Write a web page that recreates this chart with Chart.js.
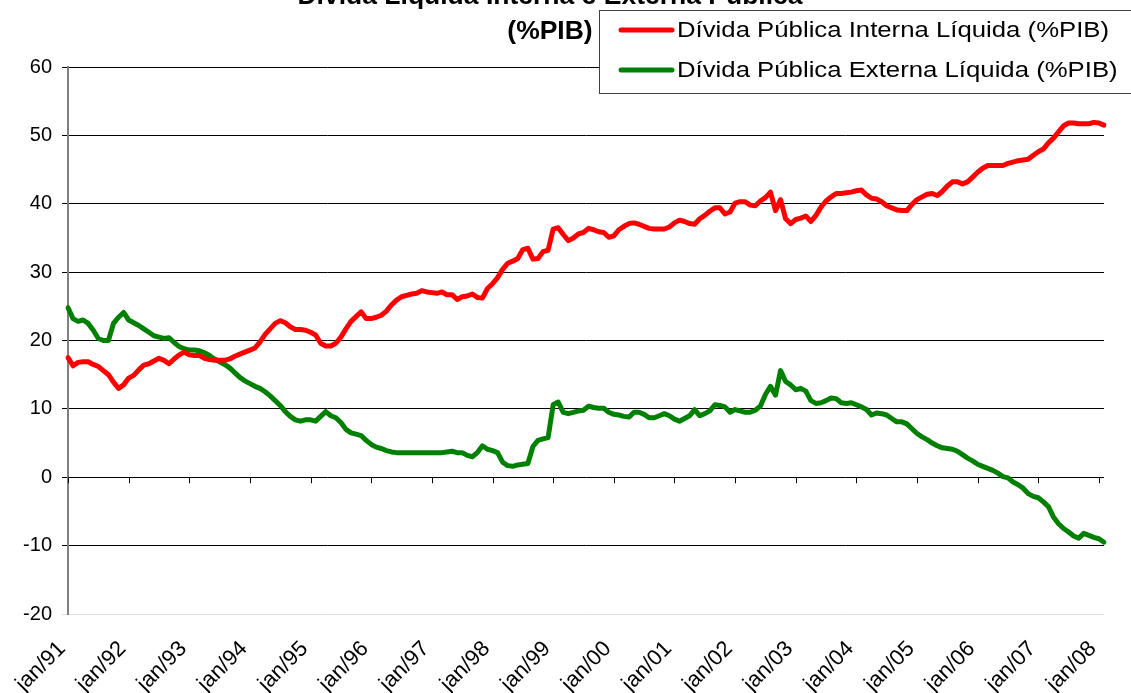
<!DOCTYPE html>
<html><head><meta charset="utf-8">
<script src="https://cdn.jsdelivr.net/npm/chart.js@4/dist/chart.umd.min.js"></script>
<style>html,body{margin:0;padding:0;background:#fff;overflow:hidden;}#wrap{width:1131px;height:693px;position:relative;}</style>
</head><body><div id="wrap"><canvas id="c" width="1131" height="693"></canvas></div>
<script>
const monthNames = ['jan','fev','mar','abr','mai','jun','jul','ago','set','out','nov','dez'];
const startYear = 1991;
const titleLines = ['Dívida Líquida Interna e Externa Pública', '(%PIB)'];
const seriesLabels = ['Dívida Pública Interna Líquida (%PIB)', 'Dívida Pública Externa Líquida (%PIB)'];
const seriesColors = ['#FF0000', '#008000'];

const internaValues = [
  17.5, 16.3, 16.8, 16.9, 16.9, 16.5, 16.2, 15.6, 15.0, 13.9, 13.0, 13.5,
  14.5, 14.9, 15.7, 16.4, 16.6, 17.0, 17.4, 17.1, 16.6, 17.3, 17.9, 18.3,
  17.9, 17.8, 17.8, 17.4, 17.2, 17.1, 17.1, 17.1, 17.3, 17.7, 18.0, 18.3,
  18.6, 18.9, 19.8, 20.9, 21.7, 22.5, 22.9, 22.6, 22.0, 21.6, 21.6, 21.5,
  21.2, 20.8, 19.6, 19.2, 19.2, 19.6, 20.5, 21.7, 22.8, 23.5, 24.2, 23.2,
  23.2, 23.4, 23.7, 24.3, 25.2, 25.9, 26.4, 26.6, 26.8, 26.9, 27.3, 27.1,
  27.0, 26.9, 27.1, 26.7, 26.7, 26.0, 26.4, 26.5, 26.8, 26.3, 26.2, 27.6,
  28.3, 29.2, 30.4, 31.3, 31.6, 32.0, 33.3, 33.5, 31.9, 32.0, 33.0, 33.2,
  36.3, 36.5, 35.5, 34.6, 35.0, 35.6, 35.8, 36.4, 36.2, 35.9, 35.8, 35.1,
  35.3, 36.2, 36.7, 37.1, 37.2, 37.0, 36.7, 36.4, 36.3, 36.3, 36.3, 36.6,
  37.2, 37.6, 37.4, 37.1, 37.0, 37.8, 38.3, 38.9, 39.4, 39.4, 38.5, 38.8,
  40.1, 40.3, 40.3, 39.8, 39.7, 40.4, 40.9, 41.7, 39.0, 40.6, 37.8, 37.1,
  37.7, 37.9, 38.2, 37.4, 38.3, 39.5, 40.4, 41.0, 41.5, 41.5, 41.6, 41.7,
  41.9, 42.0, 41.3, 40.8, 40.7, 40.3, 39.7, 39.4, 39.1, 39.0, 39.0, 39.9,
  40.6, 41.0, 41.4, 41.5, 41.2, 41.8, 42.6, 43.2, 43.2, 42.9, 43.2, 43.9,
  44.6, 45.2, 45.6, 45.6, 45.6, 45.6, 45.9, 46.1, 46.3, 46.4, 46.5, 47.1,
  47.6, 48.0, 48.9, 49.6, 50.5, 51.4, 51.8, 51.8, 51.7, 51.7, 51.7, 51.9,
  51.8, 51.5
];

const externaValues = [
  24.8, 23.2, 22.8, 23.0, 22.5, 21.5, 20.3, 20.0, 20.0, 22.5, 23.4, 24.1,
  23.0, 22.6, 22.2, 21.7, 21.2, 20.7, 20.5, 20.3, 20.4, 19.7, 19.1, 18.8,
  18.6, 18.6, 18.5, 18.2, 17.8, 17.3, 16.9, 16.5, 16.0, 15.3, 14.6, 14.1,
  13.7, 13.3, 13.0, 12.5, 11.9, 11.2, 10.5, 9.6, 8.9, 8.4, 8.2, 8.4,
  8.4, 8.2, 8.9, 9.6, 9.0, 8.7, 8.0, 7.0, 6.5, 6.3, 6.1, 5.4,
  4.8, 4.4, 4.2, 3.9, 3.7, 3.6, 3.6, 3.6, 3.6, 3.6, 3.6, 3.6,
  3.6, 3.6, 3.6, 3.7, 3.8, 3.6, 3.6, 3.2, 3.0, 3.6, 4.6, 4.1,
  3.9, 3.6, 2.2, 1.7, 1.6, 1.8, 1.9, 2.0, 4.5, 5.4, 5.6, 5.8,
  10.6, 11.0, 9.5, 9.3, 9.5, 9.7, 9.8, 10.4, 10.2, 10.1, 10.1, 9.5,
  9.2, 9.1, 8.9, 8.8, 9.5, 9.5, 9.2, 8.7, 8.7, 9.0, 9.3, 9.0,
  8.5, 8.2, 8.6, 9.0, 9.9, 9.0, 9.3, 9.7, 10.6, 10.5, 10.3, 9.5,
  9.9, 9.7, 9.5, 9.5, 9.8, 10.4, 12.1, 13.3, 12.0, 15.6, 14.0, 13.5,
  12.8, 13.0, 12.6, 11.2, 10.8, 10.9, 11.2, 11.6, 11.5, 10.9, 10.8, 10.9,
  10.6, 10.3, 9.9, 9.1, 9.4, 9.3, 9.1, 8.6, 8.1, 8.1, 7.8, 7.1,
  6.4, 5.9, 5.5, 5.0, 4.6, 4.3, 4.2, 4.1, 3.8, 3.3, 2.8, 2.4,
  1.9, 1.6, 1.3, 1.0, 0.6, 0.1, -0.1, -0.7, -1.1, -1.6, -2.4, -2.8,
  -3.0, -3.6, -4.3, -5.8, -6.8, -7.5, -8.0, -8.6, -8.9, -8.2, -8.5, -8.8,
  -9.0, -9.5
];

const categories = internaValues.map((_, i) =>
  monthNames[i % 12] + '/' + String((startYear + Math.floor(i / 12)) % 100).padStart(2, '0'));

const yMin = -20, yMax = 60, yStep = 10;
const FONT = "'Liberation Sans', Arial, sans-serif";

const decor = {
  id: 'decor',
  afterDraw(chart) {
    const ctx = chart.ctx;
    const xs = chart.scales.x, ys = chart.scales.y;
    const y0 = ys.getPixelForValue(0);
    ctx.save();
    ctx.strokeStyle = '#000';
    ctx.lineWidth = 1;
    categories.forEach((c, i) => {
      if (i % 12 !== 0) return;
      const x = Math.round(xs.getPixelForValue(i)) + 0.5;
      ctx.beginPath(); ctx.moveTo(x, y0); ctx.lineTo(x, y0 + 6); ctx.stroke();
    });
    ctx.restore();

    ctx.save();
    ctx.fillStyle = '#000';
    ctx.font = 'bold 25px ' + FONT;
    ctx.textAlign = 'center';
    ctx.textBaseline = 'alphabetic';
    const tx = 550;
    [[titleLines[0], 4], [titleLines[1], 39]].forEach(([t, by]) => {
      ctx.save(); ctx.translate(tx, by); ctx.scale(1.06, 1); ctx.fillText(t, 0, 0); ctx.restore();
    });
    ctx.restore();

    ctx.save();
    ctx.fillStyle = '#fff';
    ctx.fillRect(599.5, 10.5, 540, 83);
    ctx.strokeStyle = '#404040';
    ctx.lineWidth = 1;
    ctx.strokeRect(599.5, 10.5, 540, 83);
    chart.data.datasets.forEach((ds, i) => {
      const cy = 30 + i * 40;
      ctx.strokeStyle = ds.borderColor;
      ctx.lineWidth = 5;
      ctx.lineCap = 'round';
      ctx.beginPath(); ctx.moveTo(621, cy); ctx.lineTo(672, cy); ctx.stroke();
      ctx.fillStyle = '#000';
      ctx.font = '22px ' + FONT;
      ctx.textAlign = 'left';
      ctx.textBaseline = 'middle';
      ctx.save(); ctx.translate(677, cy + 1); ctx.scale(1.17, 1); ctx.fillText(ds.label, 0, 0); ctx.restore();
    });
    ctx.restore();
  }
};

new Chart(document.getElementById('c'), {
  type: 'line',
  data: {
    labels: categories,
    datasets: [
      { label: seriesLabels[0], data: internaValues, borderColor: seriesColors[0], backgroundColor: seriesColors[0],
        borderWidth: 5, pointRadius: 0, tension: 0, borderJoinStyle: 'round', borderCapStyle: 'round' },
      { label: seriesLabels[1], data: externaValues, borderColor: seriesColors[1], backgroundColor: seriesColors[1],
        borderWidth: 5, pointRadius: 0, tension: 0, borderJoinStyle: 'round', borderCapStyle: 'round' }
    ]
  },
  options: {
    responsive: false,
    animation: false,
    devicePixelRatio: 1,
    layout: { padding: { top: 67, right: 27, left: 0, bottom: 0 } },
    plugins: { legend: { display: false }, title: { display: false }, tooltip: { enabled: false } },
    scales: {
      x: {
        type: 'category',
        offset: false,
        grid: { display: false, drawTicks: false },
        border: { display: false },
        ticks: {
          autoSkip: false, minRotation: 45, maxRotation: 45, padding: 22, labelOffset: -6,
          color: '#000', font: { family: FONT, size: 22 },
          callback: function(v, i) { return i % 12 === 0 ? categories[i] : null; }
        },
        afterFit: s => { s.height = 79; s.paddingLeft = 0; s.paddingRight = 0; }
      },
      y: {
        min: yMin, max: yMax,
        grid: {
          color: c => (c.tick && c.tick.value === yMin) ? '#e0e0e0' : '#000',
          lineWidth: 1, tickLength: 6, drawTicks: true
        },
        border: { display: true, color: '#808080', width: 2 },
        ticks: { stepSize: yStep, padding: 10, color: '#000', font: { family: FONT, size: 20 } },
        afterFit: s => { s.width = 68; }
      }
    }
  },
  plugins: [decor]
});
</script></body></html>
